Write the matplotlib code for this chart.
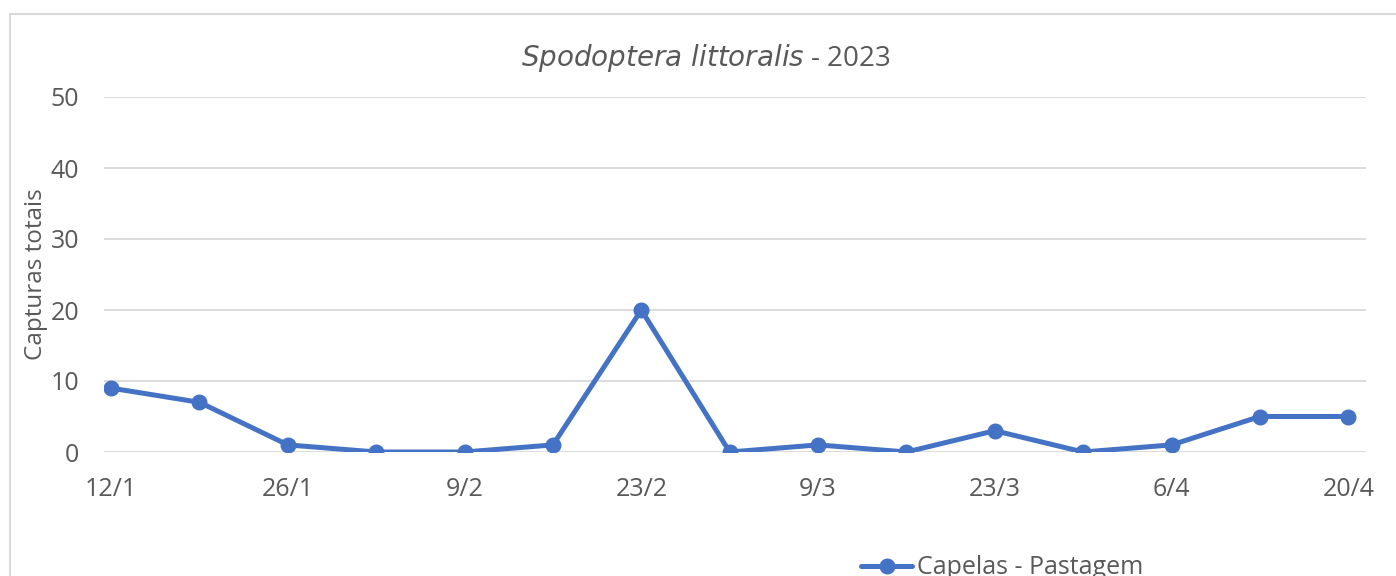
import matplotlib
matplotlib.use("Agg")
import matplotlib.pyplot as plt
from matplotlib.lines import Line2D

plt.rcParams['font.family'] = ['Open Sans', 'DejaVu Sans']

datas = ['12/1', '19/1', '26/1', '2/2', '9/2', '16/2', '23/2', '2/3',
         '9/3', '16/3', '23/3', '30/3', '6/4', '13/4', '20/4']
capturas = [9, 7, 1, 0, 0, 1, 20, 0, 1, 0, 3, 0, 1, 5, 5]
serie = 'Capelas - Pastagem'

cor_texto = '#595959'
azul = '#4472C4'

fig = plt.figure(figsize=(13.96, 5.76), dpi=100)
ax = fig.add_axes([104/1396, 1-452/576, (1366-104)/1396, (452-97)/576])

x = list(range(len(datas)))
ax.plot(x, capturas, color=azul, lw=3.6, marker='o', ms=10.5, label=serie,
        solid_capstyle='round', zorder=3)

ax.set_ylim(0, 50)
ax.set_yticks(range(0, 51, 10))
ax.set_xlim(-0.08, 14.2)
ax.set_xticks(x[::2])
ax.set_xticklabels(datas[::2])

ax.grid(axis='y', color='#D9D9D9', lw=1.3)
ax.set_axisbelow(True)
for s in ax.spines.values():
    s.set_visible(False)
ax.tick_params(length=0, labelsize=18, colors=cor_texto)
ax.tick_params(axis='x', pad=18)
ax.tick_params(axis='y', pad=18)
ax.set_ylabel('Capturas totais', fontsize=17.5, color=cor_texto)
ax.yaxis.set_label_coords(-0.044, 0.5)

fig.text(706/1396, 1-58/576, '$\\it{Spodoptera\\ littoralis}$ - 2023', ha='center', va='center',
         fontsize=20, color=cor_texto)

# moldura do grafico
fig.add_artist(Line2D([10/1396, 1], [1-14/576, 1-14/576], color='#D9D9D9', lw=1.5))
fig.add_artist(Line2D([10/1396, 10/1396], [0, 1-14/576], color='#D9D9D9', lw=1.5))

# legenda cortada pela borda inferior, como no original
fig.legend(loc='center left', bbox_to_anchor=(861/1396, 1-568/576), frameon=False,
           fontsize=18, labelcolor=cor_texto, handlelength=2.05, handletextpad=0.2,
           borderpad=0, borderaxespad=0)

fig.savefig('out.png', dpi=100)
